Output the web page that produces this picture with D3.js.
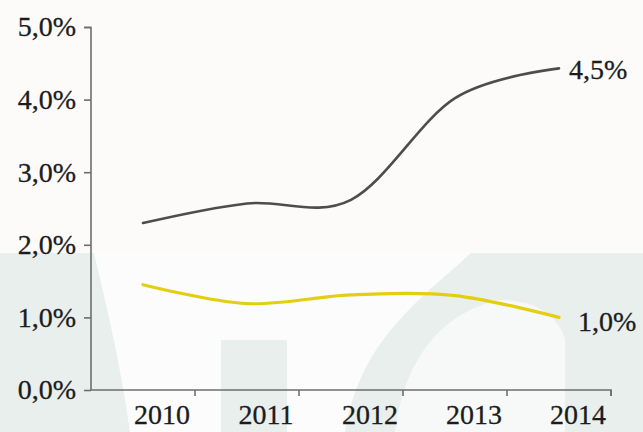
<!DOCTYPE html>
<html>
<head>
<meta charset="utf-8">
<script src="https://cdn.jsdelivr.net/npm/d3@7"></script>
<style>
  html, body { margin: 0; padding: 0; background: #ffffff; }
  svg { display: block; }
</style>
</head>
<body>
<svg id="chart" width="643" height="432"></svg>
<script>
const years = ["2010", "2011", "2012", "2013", "2014"];
const seriesGray = [2.30, 2.57, 2.62, 4.02, 4.43];
const seriesYellow = [1.45, 1.19, 1.31, 1.30, 1.00];
const yTicks = [0, 1, 2, 3, 4, 5];
const endLabels = ["4,5%", "1,0%"];

const W = 643, H = 432;
const svg = d3.select("#chart");

// faint watermark-like background
const bg = svg.append("g");
bg.append("rect").attr("x", 0).attr("y", 0).attr("width", W).attr("height", H).attr("fill", "#fcfbf9");
bg.append("rect").attr("x", 0).attr("y", 253).attr("width", W).attr("height", H - 253).attr("fill", "#e9efed");
bg.append("path")
  .attr("d", "M94,253 L471,253 C420,300 360,340 345,432 L130,432 C120,360 105,300 94,253 Z")
  .attr("fill", "#fbfcfb");
bg.append("rect").attr("x", 221).attr("y", 340).attr("width", 66).attr("height", 92).attr("fill", "#e9efed");
bg.append("path")
  .attr("d", "M395,432 C405,350 450,310 500,300 C540,300 560,320 565,340 L565,432 Z")
  .attr("fill", "#f7f9f8");

const x = d3.scaleBand().domain(years).range([91, 611]).padding(0);
const y = d3.scaleLinear().domain([0, 5]).range([390, 27]);

const fmt = v => d3.format(".1f")(v).replace(".", ",") + "%";
const font = "Liberation Serif";
const textColor = "#1c1c1c";
const fontSize = 28;

// Y axis
const yAxis = svg.append("g")
  .attr("transform", "translate(91,0)")
  .call(d3.axisLeft(y).tickValues(yTicks).tickFormat(fmt).tickSize(7).tickPadding(8))
  .attr("font-family", font).attr("font-size", fontSize);
yAxis.select(".domain").attr("stroke", "#6e6e6e").attr("stroke-width", 1.6).attr("d", "M-7,27.5H0V390");
yAxis.selectAll(".tick line").attr("stroke", "#6e6e6e").attr("stroke-width", 1.6);
yAxis.selectAll(".tick text")
  .attr("fill", textColor).attr("stroke", textColor).attr("stroke-width", 0.3);

// X axis
const xAxis = svg.append("g")
  .attr("transform", "translate(0,390)")
  .call(d3.axisBottom(x).tickSize(0).tickPadding(14))
  .attr("font-family", font).attr("font-size", fontSize);
xAxis.select(".domain").attr("stroke", "#6e6e6e").attr("stroke-width", 1.6).attr("d", "M91,0H611V6");
xAxis.selectAll(".tick text")
  .attr("fill", textColor).attr("stroke", textColor).attr("stroke-width", 0.3)
  .attr("dx", 19);
// separator ticks between categories
xAxis.selectAll(".sep")
  .data(years)
  .enter().append("line")
  .attr("class", "sep")
  .attr("x1", d => x(d) + x.bandwidth()).attr("x2", d => x(d) + x.bandwidth())
  .attr("y1", 0).attr("y2", 6)
  .attr("stroke", "#6e6e6e").attr("stroke-width", 1.6);

const line = d3.line()
  .x((d, i) => x(years[i]) + x.bandwidth() / 2)
  .y(d => y(d))
  .curve(d3.curveCardinal.tension(0));

svg.append("path").datum(seriesYellow)
  .attr("d", line).attr("fill", "none")
  .attr("stroke", "#e3cf12").attr("stroke-width", 3.2).attr("stroke-linecap", "round");

svg.append("path").datum(seriesGray)
  .attr("d", line).attr("fill", "none")
  .attr("stroke", "#4d4d4d").attr("stroke-width", 2.6).attr("stroke-linecap", "round");

// End labels
const lastX = x(years[4]) + x.bandwidth() / 2;
[[seriesGray[4], endLabels[0], 10, 1], [seriesYellow[4], endLabels[1], 19, 4]].forEach(([v, t, dx, dy]) => {
  svg.append("text")
    .attr("x", lastX + dx).attr("y", y(v) + dy)
    .attr("dy", "0.35em")
    .attr("font-family", font).attr("font-size", fontSize)
    .attr("fill", textColor).attr("stroke", textColor).attr("stroke-width", 0.3)
    .text(t);
});
</script>
</body>
</html>
